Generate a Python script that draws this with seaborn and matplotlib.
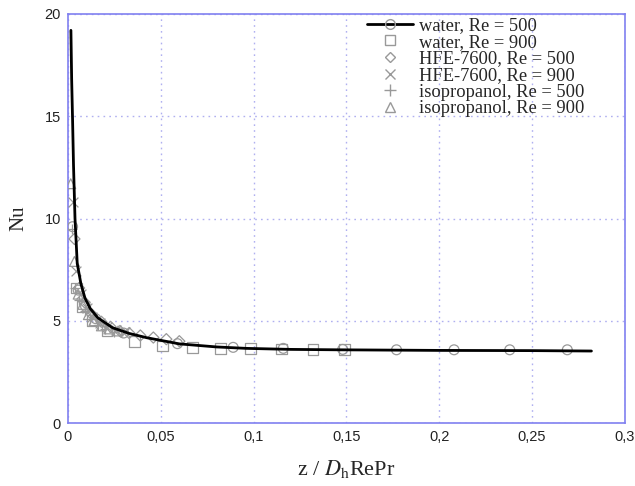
import matplotlib
matplotlib.use("Agg")
import matplotlib.pyplot as plt
from matplotlib.lines import Line2D
import seaborn as sns
import pandas as pd

# ---- data ----
curve_z = [0.0016, 0.0020, 0.0025, 0.0030, 0.0038, 0.005, 0.007, 0.0092, 0.012, 0.016,
           0.024, 0.033, 0.0425, 0.060, 0.080, 0.096, 0.12, 0.145, 0.20, 0.25, 0.282]
curve_nu = [19.2, 16.8, 14.8, 12.6, 10.0, 7.8, 6.8, 6.1, 5.6, 5.15,
            4.66, 4.38, 4.17, 3.87, 3.72, 3.65, 3.6, 3.58, 3.55, 3.54, 3.52]

water500_z = [0.0025, 0.0055, 0.0095, 0.015, 0.030, 0.059, 0.089, 0.116, 0.148, 0.177, 0.208, 0.238, 0.269]
water500_nu = [9.6, 6.5, 5.7, 5.1, 4.4, 3.88, 3.7, 3.65, 3.6, 3.58, 3.58, 3.58, 3.58]

water900_z = [0.0045, 0.008, 0.013, 0.021, 0.036, 0.051, 0.067, 0.082, 0.0985, 0.115, 0.132, 0.149]
water900_nu = [6.6, 5.7, 5.0, 4.5, 4.0, 3.77, 3.68, 3.65, 3.63, 3.62, 3.6, 3.6]

hfe500_z = [0.0035, 0.006, 0.009, 0.013, 0.018, 0.023, 0.028, 0.033, 0.039, 0.046, 0.053, 0.060]
hfe500_nu = [9.0, 6.6, 5.9, 5.3, 4.95, 4.7, 4.5, 4.4, 4.28, 4.18, 4.1, 4.0]

hfe900_z = [0.0025, 0.0045, 0.007, 0.010, 0.013, 0.017, 0.021, 0.026, 0.031]
hfe900_nu = [10.8, 7.45, 6.3, 5.6, 5.2, 4.9, 4.7, 4.55, 4.45]

iso500_z = [0.0022, 0.004, 0.006, 0.009, 0.012, 0.016, 0.020, 0.025]
iso500_nu = [9.5, 6.6, 6.0, 5.5, 5.1, 4.8, 4.6, 4.45]

iso900_z = [0.0015, 0.0035, 0.0055, 0.008, 0.011, 0.014, 0.018, 0.022, 0.027]
iso900_nu = [11.7, 7.9, 6.3, 5.8, 5.3, 5.0, 4.75, 4.6, 4.5]

labels = ["water, Re = 500", "water, Re = 900", "HFE-7600, Re = 500",
          "HFE-7600, Re = 900", "isopropanol, Re = 500", "isopropanol, Re = 900"]
x_ticks = [0, 0.05, 0.1, 0.15, 0.2, 0.25, 0.3]
x_tick_labels = ["0", "0,05", "0,1", "0,15", "0,2", "0,25", "0,3"]
y_ticks = [0, 5, 10, 15, 20]

# ---- style ----
sns.set_style("white")
plt.rcParams["font.family"] = ["Liberation Sans", "DejaVu Sans"]
plt.rcParams["mathtext.fontset"] = "stix"

blue = "#8080f0"
grid_c = "#b0b0f0"
mcol = "#999999"

fig = plt.figure(figsize=(6.35, 4.86), dpi=100)
ax = fig.add_axes([0.107, 0.1296, 0.877, 0.8416])

series = [
    (water500_z, water500_nu, "o", labels[0]),
    (water900_z, water900_nu, "s", labels[1]),
    (hfe500_z, hfe500_nu, "D", labels[2]),
    (hfe900_z, hfe900_nu, "x", labels[3]),
    (iso500_z, iso500_nu, "+", labels[4]),
    (iso900_z, iso900_nu, "^", labels[5]),
]
msizes = {"o": 50, "s": 60, "D": 32, "x": 50, "+": 60, "^": 50}
for zs, nus, mk, lab in series:
    df = pd.DataFrame({"z": zs, "Nu": nus})
    if mk in ("x", "+"):
        sns.scatterplot(data=df, x="z", y="Nu", marker=mk, color=mcol, s=msizes[mk],
                        linewidth=0.9, ax=ax, legend=False, zorder=3)
    else:
        sns.scatterplot(data=df, x="z", y="Nu", marker=mk, facecolor="none",
                        edgecolor=mcol, s=msizes[mk], linewidth=0.9, ax=ax,
                        legend=False, zorder=3)

cdf = pd.DataFrame({"z": curve_z, "Nu": curve_nu})
sns.lineplot(data=cdf, x="z", y="Nu", color="black", linewidth=2.0, ax=ax,
             legend=False, zorder=4, sort=False)

ax.set_xlim(0, 0.3)
ax.set_ylim(0, 20)
ax.set_xticks(x_ticks)
ax.set_xticklabels(x_tick_labels)
ax.set_yticks(y_ticks)
ax.grid(True, linestyle=(0, (1.2, 3.0)), color=grid_c, linewidth=1.0)
for s in ax.spines.values():
    s.set_color(blue)
    s.set_linewidth(1.2)
    s.set_visible(True)
ax.tick_params(axis="both", direction="in", length=4, color=blue, width=1,
               labelsize=10.5, labelcolor="#222222", pad=5)

ax.set_xlabel(r"z / $D_{\mathrm{h}}$RePr", family="Liberation Serif", fontsize=16, labelpad=10)
ax.set_ylabel("Nu", family="Liberation Serif", fontsize=15, labelpad=12)

handles = [
    Line2D([], [], color="black", lw=2, marker="o", mfc="none", mec=mcol, ms=7),
    Line2D([], [], ls="none", marker="s", mfc="none", mec=mcol, ms=7.5),
    Line2D([], [], ls="none", marker="D", mfc="none", mec=mcol, ms=5.5),
    Line2D([], [], ls="none", marker="x", color=mcol, ms=7.5),
    Line2D([], [], ls="none", marker="+", color=mcol, ms=8.5),
    Line2D([], [], ls="none", marker="^", mfc="none", mec=mcol, ms=7),
]
leg = ax.legend(handles, labels, loc="upper left", bbox_to_anchor=(0.524, 1.01),
                frameon=False, prop={"family": "Liberation Serif", "size": 13.3},
                handlelength=2.5, handletextpad=0.33, labelspacing=-0.02,
                borderaxespad=0.0)

fig.savefig("out.png", dpi=100)
